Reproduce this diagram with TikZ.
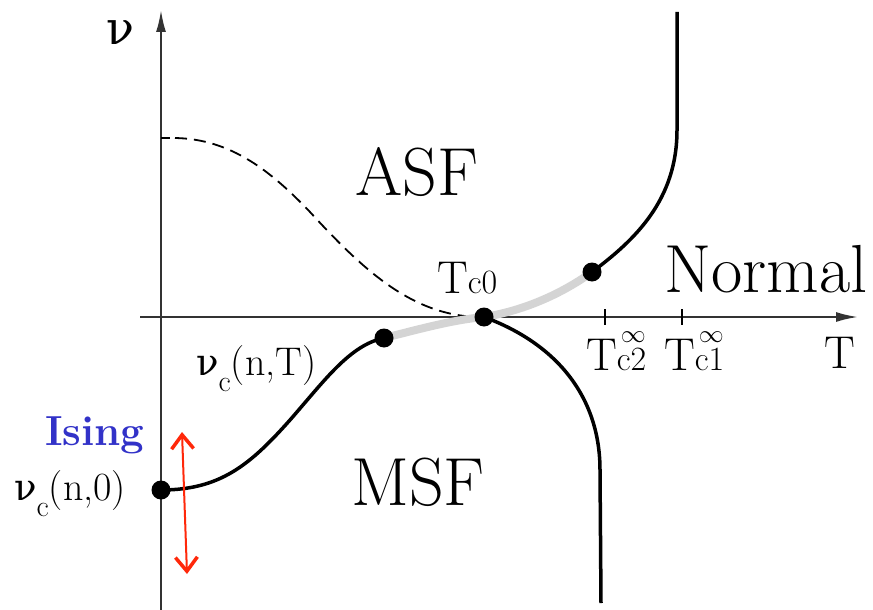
\documentclass[tikz,border=0pt]{standalone}
\usepackage{fontspec}
\newfontfamily\grk{DejaVu Serif}
\usetikzlibrary{arrows.meta}
\definecolor{isingblue}{RGB}{50,50,200}
\definecolor{arrred}{RGB}{255,40,10}
\begin{document}
\begin{tikzpicture}[x=1pt,y=-1pt,
  axis/.style={line width=2pt,black!80},
  curve/.style={line width=3.5pt,black},
  dot/.style={circle,fill=black,inner sep=0pt,minimum size=19pt},
  lbl/.style={anchor=base west,inner sep=0pt},
  big/.style={lbl,font=\fontsize{68}{68}\selectfont},
  tl/.style={lbl,font=\fontsize{46}{46}\selectfont},
]
\useasboundingbox (0,0) rectangle (873,610);
% axes
\coordinate (xs) at (140,317);
\coordinate (xe) at (858,317);
\coordinate (ys) at (161,610);
\coordinate (ye) at (161,10);
\draw[axis,-{Latex[length=22pt,width=10pt]}] (xs) -- (xe);
\draw[axis,-{Latex[length=22pt,width=10pt]}] (ys) -- (ye);
% ticks
\coordinate (dv) at (161,138);
\coordinate (t2) at (605,317);
\coordinate (t1) at (682,317);
\draw[line width=1.8pt] (dv) -- ++(9,0);
\draw[line width=1.5pt] (t2) ++(0,-8) -- ++(0,16);
\draw[line width=1.5pt] (t1) ++(0,-8) -- ++(0,16);
% dots positions
\coordinate (p0) at (161,490);
\coordinate (p1) at (384,338);
\coordinate (p2) at (484,317);
\coordinate (p3) at (592,272);
% dashed curve
\draw[dash pattern=on 12pt off 7pt,line width=1.8pt] (dv) ++(14,0) .. controls (230,139) and (270,170) .. (310,212) .. controls (365,272) and (415,318) .. (p2);
% gray curve
\draw[line width=8pt,black!17] (p1) .. controls (420,329) and (452,320) .. (p2) .. controls (522,311) and (560,295) .. (p3);
% black curves
\draw[curve] (p0) .. controls (220,490) and (250,465) .. (290,420) .. controls (325,380) and (350,345) .. (p1);
\draw[curve] (p3) .. controls (635,240) and (677,200) .. (677,130) -- (677,12);
\draw[curve] (p2) .. controls (560,345) and (600,400) .. (600,470) -- (601,603);
% dots
\node[dot] (d0) at (p0) {};
\node[dot] (d1) at (p1) {};
\node[dot] (d2) at (p2) {};
\node[dot] (d3) at (p3) {};
% red double arrow
\coordinate (ra) at (182,432);
\coordinate (rb) at (187,574);
\draw[arrred,line width=2pt,{Straight Barb[length=14pt,width=22pt,line width=3.5pt]}-{Straight Barb[length=14pt,width=22pt,line width=3.5pt]}] (ra) -- (rb);
% labels
\node[lbl,font=\grk\fontsize{46}{46}\selectfont] (nu) at (106,45) {ν};
\node[big] (asf) at (355,195) {ASF};
\node[big] (msf) at (351,505) {MSF};
\node[big] (normal) at (664,292) {Normal};
\node[lbl,font=\fontsize{42}{42}\selectfont\bfseries,text=isingblue] (ising) at (45,445) {Ising};
\node[lbl,font=\fontsize{40}{40}\selectfont] (nc0) at (14,500) {{\grk\fontsize{37}{37}\selectfont ν}\raisebox{-16pt}{\fontsize{30}{30}\selectfont c}(n,0)};
\node[lbl,font=\fontsize{40}{40}\selectfont] (ncT) at (196,375) {{\grk\fontsize{37}{37}\selectfont ν}\raisebox{-16pt}{\fontsize{30}{30}\selectfont c}(n,T)};
\node[tl] (tc0) at (437,293) {T{\fontsize{34}{34}\selectfont c0}};
\node[tl] (tax) at (824,368) {T};
\node[tl] (tc2) at (586,370) {T\rlap{\hspace{4pt}\raisebox{28pt}{\fontsize{30}{30}\selectfont $\infty$}}{\fontsize{34}{34}\selectfont c2}};
\node[tl] (tc1) at (664,370) {T\rlap{\hspace{4pt}\raisebox{28pt}{\fontsize{30}{30}\selectfont $\infty$}}{\fontsize{34}{34}\selectfont c1}};
\end{tikzpicture}
\end{document}
